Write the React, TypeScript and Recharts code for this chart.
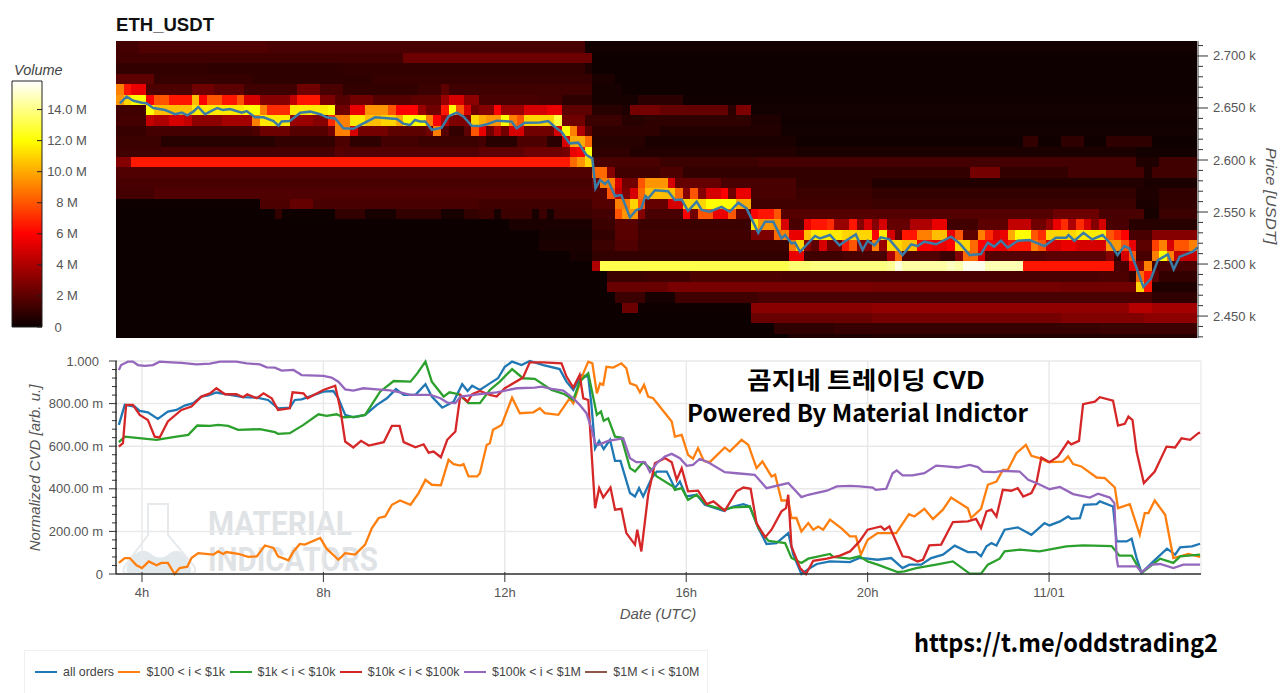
import { Bar, CartesianGrid, ComposedChart, Line, ReferenceArea, ReferenceLine, XAxis, YAxis } from "recharts";

// Order book heatmap: price rows from top to bottom, 10 minute columns.
// Each row lists [first column, volume in M]; a run lasts until the next entry.
const columnCount = 143;
const priceLevels = [
  2702.9, 2692.9, 2682.9, 2672.9, 2662.9, 2652.9, 2642.9, 2632.9, 2622.9, 2612.9, 2602.9, 2592.9, 2582.9, 2572.9, 2562.9,
  2552.9, 2542.9, 2532.9, 2522.9, 2512.9, 2502.9, 2492.9, 2482.9, 2472.9, 2462.9, 2452.9, 2442.9, 2432.9, 2422.9,
];
const volumeRows: number[][][] = [
  [[0, 1.4], [3, 1.7], [20, 1.5], [62, 0.2]],
  [[0, 1.3], [38, 2.4], [63, 0.1]],
  [[0, 1], [12, 0.9], [30, 1], [62, 0.5], [63, 0.1]],
  [[0, 2], [5, 1.1], [18, 0.9], [34, 1.1], [63, 0.4], [66, 0.1]],
  [[0, 9], [1, 6.5], [2, 5.5], [4, 1.6], [10, 2.5], [13, 2], [17, 1.3], [24, 2.5], [27, 1.5], [30, 1], [40, 1.2], [43, 2], [44, 1.3], [63, 0.3], [67, 0.1]],
  [[0, 9.5], [1, 11], [2, 12], [4, 6], [5, 8], [7, 6.5], [10, 10.5], [11, 6], [12, 8], [14, 6.5], [16, 8], [17, 5], [19, 3], [23, 4.5], [24, 6.5], [27, 2.8], [29, 1.8], [31, 2.5], [34, 1.8], [39, 2], [43, 3.5], [44, 5], [46, 3.2], [48, 1.5], [56, 1.4], [59, 0.9], [63, 0.3], [69, 0.8], [75, 0.15]],
  [[0, 1.3], [4, 12], [5, 10.5], [10, 11.5], [17, 12], [19, 9], [20, 7], [23, 11.5], [28, 12], [29, 2.5], [31, 5.5], [33, 9.5], [36, 8], [37, 6], [40, 3.5], [41, 2.5], [43, 6.5], [44, 12], [45, 8], [46, 5], [47, 2.5], [48, 3], [50, 6], [51, 3.5], [54, 5], [57, 5.5], [59, 2], [63, 0.7], [67, 0.5], [68, 2.6], [72, 2.2], [81, 0.8], [82, 2.8], [84, 0.2]],
  [[0, 1.4], [4, 4.5], [5, 4], [7, 5], [9, 4.5], [10, 3.2], [14, 3.8], [18, 9], [19, 11.5], [23, 3.5], [26, 3], [28, 7], [29, 9], [31, 11.5], [33, 10.5], [35, 11], [37, 10], [38, 12], [41, 9], [42, 6], [43, 4], [44, 2.8], [47, 11], [48, 10], [49, 9.5], [51, 12], [52, 9], [53, 8], [54, 11], [58, 13], [59, 2.5], [62, 1.2], [67, 0.7], [70, 0.9], [84, 0.5], [88, 0.15]],
  [[0, 1.1], [4, 1.4], [18, 1.6], [19, 2.4], [23, 1.8], [28, 2.5], [29, 9], [31, 5], [32, 2.6], [36, 2], [41, 2.5], [42, 9], [43, 1.8], [44, 1], [46, 2], [47, 8], [48, 5.5], [49, 2.5], [50, 4], [51, 2.5], [52, 5], [54, 2.5], [58, 5], [59, 12], [60, 9], [61, 4], [62, 2], [63, 0.9], [72, 0.6], [88, 0.2]],
  [[0, 1.2], [6, 0.7], [21, 1], [29, 1.6], [31, 0.9], [35, 1.4], [40, 1.2], [48, 1.4], [49, 0.7], [53, 1.6], [57, 0.8], [59, 5], [60, 10], [62, 8.5], [63, 0.7], [70, 0.4], [90, 0.15], [120, 1], [122, 0.15], [125, 0.9], [128, 0.15], [131, 0.9], [137, 0.1]],
  [[0, 1.3], [6, 1.4], [29, 1.9], [30, 1.7], [48, 2], [54, 2.4], [59, 2.6], [60, 5.5], [61, 6], [62, 12], [63, 0.9], [68, 0.6], [90, 0.4], [135, 0.2]],
  [[0, 3], [2, 6.6], [60, 8.5], [61, 9.5], [62, 11], [63, 1.5], [72, 1.2], [85, 1.4], [135, 0.5], [138, 1.3]],
  [[0, 1.7], [63, 8.5], [65, 3], [66, 1.3], [72, 1.6], [75, 1], [113, 2.6], [117, 1], [126, 1.4], [136, 0.5], [137, 1.3]],
  [[0, 1.5], [63, 2.5], [64, 9], [66, 5], [67, 2.5], [69, 8], [70, 9.5], [73, 5], [74, 2.2], [80, 1.5], [90, 1], [100, 0.6], [136, 0.4]],
  [[0, 1.4], [5, 1.7], [63, 1.8], [65, 8], [66, 4.5], [67, 2.8], [68, 5], [69, 8.5], [70, 10.5], [74, 8.5], [75, 3], [76, 8], [77, 3], [78, 5], [80, 6], [81, 2.5], [82, 5.5], [84, 1.5], [90, 1.2], [100, 1], [135, 0.5], [138, 0.9]],
  [[0, 0.1], [19, 1.6], [23, 2.2], [26, 1.5], [48, 1.3], [63, 1.8], [66, 9], [68, 11], [69, 8], [70, 2.2], [73, 5], [75, 11], [78, 12], [82, 10], [84, 1.3], [100, 1.2], [135, 0.4], [138, 1]],
  [[0, 0.05], [21, 1], [22, 0.1], [29, 1], [33, 0.3], [37, 1], [43, 0.3], [46, 1], [48, 1.2], [50, 0.3], [51, 1.2], [55, 0.3], [56, 1.2], [57, 0.3], [58, 1.2], [63, 1.4], [66, 8], [67, 9.5], [69, 3], [70, 1.5], [75, 6], [76, 2.5], [77, 8], [79, 5.5], [81, 8], [82, 2.2], [84, 6], [85, 6.5], [87, 8], [88, 1.8], [124, 2.4], [130, 1.5], [136, 0.3], [138, 1.2]],
  [[0, 0.05], [52, 0.4], [63, 1.2], [66, 1.9], [69, 1.2], [84, 11.5], [85, 9.5], [88, 5], [89, 1.5], [91, 5.5], [92, 6.5], [94, 7], [95, 3.5], [97, 6.5], [98, 3], [99, 5], [100, 3], [101, 5], [102, 2.2], [105, 4], [108, 5.5], [110, 1.3], [114, 2], [118, 4.5], [121, 2.5], [123, 3.5], [124, 5.5], [125, 7], [126, 4], [127, 7], [128, 5], [129, 3], [130, 5], [131, 1.5], [134, 0.7]],
  [[0, 0.05], [56, 0.3], [63, 1], [66, 1.9], [69, 1.3], [84, 2.8], [87, 8.5], [88, 9], [89, 5.5], [91, 10.5], [92, 11.5], [96, 11], [100, 6], [101, 11.5], [102, 5], [103, 2.2], [104, 6.5], [106, 9], [108, 10.5], [110, 5.5], [111, 8], [112, 2], [114, 9], [115, 7], [116, 5], [117, 5.5], [118, 10], [119, 12], [121, 8], [122, 7], [123, 11], [127, 11.5], [131, 8], [132, 7], [133, 6], [134, 1.5], [137, 3]],
  [[0, 0.05], [56, 0.4], [63, 1.2], [66, 1.7], [69, 1.2], [89, 9], [90, 11], [91, 3], [92, 2], [93, 5], [94, 2.5], [96, 6.5], [97, 8], [98, 3], [100, 9], [101, 3.5], [102, 11], [104, 10.5], [106, 6], [108, 5.5], [110, 6], [111, 11], [113, 8.5], [114, 6], [116, 5.5], [118, 6.5], [121, 9], [122, 8], [123, 5], [125, 5.5], [127, 5], [130, 5], [131, 9.5], [133, 8], [134, 5.5], [135, 2], [137, 7.5], [138, 9], [139, 5], [140, 8], [142, 9]],
  [[0, 0.05], [60, 0.3], [63, 1], [89, 5.5], [91, 1.3], [96, 1.5], [102, 4], [103, 8.5], [104, 1.7], [109, 1.2], [111, 3], [112, 8.5], [114, 5], [115, 1.8], [123, 2], [131, 3], [132, 1], [133, 5], [134, 8], [135, 1.5], [137, 9], [138, 12], [139, 9], [140, 4.5]],
  [[0, 0.05], [63, 4], [64, 13.2], [89, 13.8], [92, 14], [102, 14.3], [103, 15.5], [104, 14.6], [110, 15], [111, 14.7], [112, 15.7], [115, 14.8], [120, 6.5], [132, 1.5], [134, 5.5], [135, 3], [136, 9], [137, 1.5]],
  [[0, 0.05], [65, 1.2], [70, 1.3], [76, 1.6], [88, 1.5], [130, 1.6], [134, 1], [135, 8.5], [136, 6.5], [137, 2], [138, 1]],
  [[0, 0.05], [65, 2.3], [73, 2.7], [100, 2.6], [125, 2.5], [135, 11], [136, 6.5], [137, 0.5]],
  [[0, 0.05], [66, 1.2], [70, 0.3], [74, 1.3], [85, 1.5], [137, 0.9]],
  [[0, 0.05], [67, 2.4], [69, 0.1], [84, 3.1], [100, 3.3], [134, 4.2], [137, 3.8]],
  [[0, 0.05], [84, 2.3], [100, 2.6], [125, 2.9], [136, 3.2]],
  [[0, 0.05], [87, 0.9], [95, 1.1], [130, 1.2]],
  [[0, 0.03], [89, 0.5], [100, 0.6]],
];

// Price line: [hour, USDT]
const priceLine = [
  [3.51, 2654.5], [3.66, 2661], [3.81, 2657], [4, 2655], [4.1, 2654.5], [4.25, 2650], [4.51, 2648], [4.73, 2644], [4.88, 2645.5], [5, 2643], [5.13, 2646.5], [5.24, 2651], [5.39, 2644], [5.5, 2646.5], [5.66, 2650], [5.79, 2648], [5.94, 2649], [6.2, 2645.5], [6.31, 2647], [6.49, 2641], [6.68, 2641], [6.9, 2637.5], [7.01, 2633], [7.08, 2637], [7.26, 2637.5], [7.49, 2645.5], [7.71, 2646.5], [7.93, 2644], [8.07, 2641], [8.26, 2640], [8.44, 2630.5], [8.66, 2630], [8.81, 2633.6], [9.14, 2641], [9.62, 2639.4], [9.76, 2635], [9.91, 2633.6], [10.02, 2638.5], [10.13, 2637], [10.25, 2637], [10.39, 2629], [10.61, 2631], [10.76, 2642], [10.94, 2645.5], [11.09, 2641.7], [11.27, 2633],
  [11.45, 2632.7], [11.63, 2634.6], [11.82, 2637.8], [12.15, 2636.9], [12.26, 2630.4], [12.44, 2635.9], [12.77, 2636], [12.96, 2637.5], [13.1, 2632], [13.25, 2627], [13.43, 2616], [13.62, 2616.7], [13.8, 2604.8], [13.93, 2601.6], [14, 2572.7], [14.1, 2580.8], [14.21, 2577], [14.28, 2580], [14.43, 2565.4], [14.57, 2566.3], [14.76, 2544.9], [14.9, 2551.9], [15.01, 2553.5], [15.1, 2565.4], [15.16, 2563], [15.31, 2571], [15.6, 2570], [15.75, 2561.5], [15.9, 2562], [16.04, 2551], [16.23, 2560], [16.34, 2552], [16.52, 2550.3], [16.78, 2555], [16.96, 2550.3], [17.15, 2559], [17.33, 2553.5], [17.59, 2530], [17.74, 2540.7], [17.92, 2540.7], [18.1, 2524.7], [18.18, 2527.9], [18.32, 2519.9], [18.4, 2520.5], [18.51, 2511.8], [18.84, 2527], [18.95, 2524.7], [19.17, 2527.9],
  [19.38, 2518], [19.52, 2522.4], [19.74, 2528.5], [19.89, 2513.5], [20, 2522.4], [20.15, 2518], [20.29, 2525.6], [20.48, 2523.7], [20.77, 2508.6], [20.96, 2518.9], [21.1, 2517.3], [21.25, 2521.5], [21.51, 2519], [21.84, 2526.3], [22.03, 2519.9], [22.25, 2508.6], [22.5, 2509.6], [22.65, 2520.5], [22.79, 2516.7], [22.94, 2522.4], [23.09, 2515.7], [23.31, 2522.4], [23.57, 2523], [23.9, 2517.3], [24.15, 2525.3], [24.38, 2525.3], [24.43, 2527.9], [24.56, 2522.4], [24.76, 2530], [24.95, 2523.7], [25.18, 2527.9], [25.35, 2519.9], [25.51, 2508.6], [25.66, 2517.3], [25.77, 2515], [25.92, 2497.4], [26.08, 2478], [26.25, 2486], [26.4, 2503.8], [26.62, 2509.3], [26.75, 2494.9], [26.88, 2507], [27.17, 2511.9], [27.28, 2516],
];

// Normalized CVD series: [hour, milli arb. u.]
const allOrdersCvd = [
  [3.49, 700], [3.62, 794], [3.84, 786], [3.95, 766], [4.13, 759], [4.35, 728], [4.57, 762], [4.76, 770], [4.94, 791], [5.13, 802], [5.31, 833], [5.46, 838], [5.64, 852], [5.94, 841], [6.23, 830], [6.53, 828], [6.78, 817], [7, 778], [7.26, 781], [7.37, 817], [7.52, 820], [8, 856], [8.22, 859], [8.33, 825], [8.48, 747], [8.66, 736], [8.92, 747], [9.18, 794], [9.4, 825], [9.6, 868], [9.77, 841], [10.03, 841], [10.25, 891], [10.39, 833], [10.62, 781], [10.87, 809], [11.06, 891], [11.18, 859], [11.28, 884], [11.45, 864],
  [11.67, 895], [11.85, 919], [12, 973], [12.16, 997], [12.37, 981], [12.55, 1000], [12.85, 981], [13.21, 962], [13.36, 903], [13.51, 864], [13.69, 934], [13.84, 925], [13.91, 794], [13.99, 590], [14.08, 625], [14.18, 587], [14.32, 630], [14.43, 531], [14.55, 531], [14.76, 380], [14.87, 364], [14.96, 403], [15.05, 364], [15.24, 450], [15.35, 481], [15.57, 481], [15.75, 403], [15.86, 434], [16, 364], [16.23, 372], [16.41, 325], [16.82, 297], [17.04, 317], [17.26, 328], [17.4, 317], [17.59, 216], [17.77, 141], [17.99, 145], [18.25, 192], [18.36, 91], [18.54, 0], [18.73, 28], [18.88, 47], [19.17, 59], [19.61, 56],
  [19.82, 75], [20, 72], [20.22, 67], [20.52, 75], [20.77, 28], [20.92, 44], [21.18, 44], [21.4, 75], [21.66, 91], [21.92, 133], [22.21, 103], [22.39, 103], [22.5, 83], [22.62, 130], [22.73, 145], [22.84, 134], [23.02, 208], [23.31, 219], [23.61, 184], [23.9, 239], [24.01, 228], [24.24, 247], [24.42, 270], [24.49, 259], [24.68, 262], [24.77, 325], [25.05, 328], [25.12, 341], [25.41, 317], [25.49, 153], [25.71, 153], [25.82, 166], [25.93, 75], [26.04, 5], [26.3, 59], [26.6, 119], [26.78, 91], [26.89, 125], [27.15, 130], [27.33, 142],
];
const orders100To1kCvd = [
  [3.49, 52], [3.62, 75], [3.73, 75], [3.88, 41], [4, 28], [4.15, 59], [4.32, 41], [4.43, 52], [4.57, 52], [4.72, 0], [4.83, 28], [5, 34], [5.09, 75], [5.24, 98], [5.57, 91], [5.68, 106], [5.79, 94], [5.86, 103], [6.12, 95], [6.34, 80], [6.53, 83], [6.71, 134], [6.9, 122], [7, 83], [7.23, 64], [7.34, 106], [7.48, 141], [7.59, 138], [7.93, 169], [8.07, 119], [8.33, 67], [8.48, 98], [8.7, 91], [8.92, 138], [9.07, 216], [9.22, 263], [9.36, 270], [9.51, 325], [9.69, 345], [9.92, 325], [10.1, 380], [10.25, 442], [10.39, 419], [10.59, 416], [10.76, 536], [10.87, 516], [11.02, 509], [11.09, 516], [11.2, 458], [11.39, 458],
  [11.45, 473], [11.6, 606], [11.67, 614], [11.74, 677], [11.93, 700], [12.16, 828], [12.33, 755], [12.63, 759], [12.77, 778], [12.88, 755], [13.18, 747], [13.43, 825], [13.51, 802], [13.73, 942], [13.84, 997], [13.93, 989], [14.03, 848], [14.1, 895], [14.17, 888], [14.24, 973], [14.39, 969], [14.57, 989], [14.68, 966], [14.76, 895], [14.9, 884], [14.98, 853], [15.07, 888], [15.16, 833], [15.27, 825], [15.68, 716], [15.75, 645], [15.9, 653], [16.04, 559], [16.15, 541], [16.26, 591], [16.39, 531], [16.52, 525], [16.85, 594], [16.96, 575], [17.22, 630], [17.37, 606], [17.55, 497], [17.68, 528], [17.88, 458], [17.96, 466], [18.1, 345], [18.25, 345], [18.32, 263], [18.43, 263], [18.54, 200], [18.69, 239], [18.8, 208], [18.91, 223], [19.02, 208], [19.17, 255], [19.43, 213], [19.61, 177],
  [19.74, 177], [19.85, 91], [20, 161], [20.22, 192], [20.63, 192], [20.91, 281], [21.03, 270], [21.25, 306], [21.44, 258], [21.66, 302], [21.84, 359], [22.21, 309], [22.28, 263], [22.5, 306], [22.65, 419], [22.84, 434], [22.98, 489], [23.09, 489], [23.28, 567], [23.49, 606], [23.61, 555], [23.79, 544], [23.98, 525], [24.31, 528], [24.42, 552], [24.53, 516], [24.71, 505], [25.05, 453], [25.23, 450], [25.45, 406], [25.52, 309], [25.78, 328], [26, 184], [26.11, 286], [26.19, 286], [26.33, 345], [26.56, 278], [26.74, 75], [26.89, 83], [27.07, 94], [27.33, 80],
];
const orders1kTo10kCvd = [
  [3.49, 619], [3.62, 645], [3.99, 637], [4.32, 630], [4.76, 645], [5.02, 653], [5.22, 697], [5.5, 695], [5.68, 700], [5.9, 695], [6.12, 677], [6.6, 680], [6.93, 666], [7, 658], [7.26, 661], [7.56, 700], [7.89, 750], [8.07, 742], [8.29, 750], [8.44, 736], [8.74, 739], [8.92, 747], [9.25, 856], [9.55, 906], [9.92, 903], [10.07, 942], [10.25, 997], [10.39, 903], [10.65, 833], [10.78, 853], [10.98, 844], [11.2, 802], [11.45, 802],
  [11.67, 864], [11.89, 903], [12.16, 962], [12.4, 919], [12.66, 916], [13.03, 864], [13.32, 844], [13.51, 817], [13.65, 903], [13.84, 942], [14.03, 747], [14.12, 763], [14.18, 719], [14.28, 731], [14.43, 645], [14.57, 641], [14.76, 497], [14.87, 481], [15.05, 525], [15.24, 489], [15.35, 458], [15.71, 411], [15.75, 395], [15.9, 403], [16.04, 348], [16.23, 372], [16.45, 325], [16.82, 302], [17.04, 313], [17.4, 317], [17.59, 216], [17.81, 156], [18.18, 145], [18.32, 75], [18.54, 52], [18.69, 72], [19.17, 94], [19.24, 80], [19.61, 72],
  [19.82, 83], [20, 59], [20.22, 44], [20.66, 9], [20.81, 12], [21.07, 28], [21.51, 44], [21.88, 59], [22.25, 2], [22.5, 2], [22.65, 44], [22.91, 72], [23.02, 106], [23.35, 114], [23.79, 106], [24.38, 130], [24.75, 134], [25.38, 131], [25.55, 86], [25.82, 86], [26.04, 5], [26.45, 72], [26.74, 52], [26.89, 83], [27.33, 91],
];
const orders10kTo100kCvd = [
  [3.49, 598], [3.58, 614], [3.65, 794], [3.8, 794], [3.95, 747], [4.13, 723], [4.28, 645], [4.39, 641], [4.57, 716], [4.87, 770], [5.09, 786], [5.31, 833], [5.5, 848], [5.64, 872], [5.83, 844], [6.08, 844], [6.23, 830], [6.32, 844], [6.53, 825], [6.68, 848], [6.86, 825], [7, 770], [7.26, 778], [7.32, 853], [7.56, 848], [7.65, 825], [8, 864], [8.26, 884], [8.37, 778], [8.48, 622], [8.66, 594], [8.83, 625], [9, 603], [9.33, 619], [9.51, 695], [9.68, 695], [9.77, 619], [10.03, 595], [10.21, 609], [10.32, 570], [10.43, 575], [10.59, 548], [10.73, 630], [10.91, 669], [11.02, 841], [11.18, 809], [11.28, 844], [11.45, 859],
  [11.67, 841], [11.82, 833], [12, 872], [12.4, 922], [12.55, 994], [12.85, 994], [13.25, 989], [13.36, 927], [13.51, 875], [13.65, 934], [13.73, 825], [13.84, 817], [13.99, 309], [14.08, 403], [14.17, 359], [14.33, 406], [14.43, 302], [14.57, 306], [14.68, 192], [14.87, 138], [14.92, 208], [15.01, 106], [15.16, 372], [15.31, 520], [15.53, 544], [15.68, 525], [15.79, 442], [15.9, 497], [16.04, 388], [16.26, 391], [16.45, 328], [16.6, 341], [16.85, 297], [17.11, 388], [17.26, 406], [17.42, 400], [17.55, 239], [17.74, 172], [17.88, 208], [18.1, 294], [18.2, 309], [18.25, 372], [18.32, 130], [18.51, 28], [18.64, 0], [18.8, 62], [19.1, 72], [19.39, 86], [19.61, 106],
  [19.82, 153], [20, 208], [20.29, 223], [20.37, 208], [20.48, 223], [20.77, 83], [20.92, 78], [21.1, 59], [21.22, 67], [21.36, 134], [21.62, 138], [21.88, 244], [22.21, 247], [22.39, 259], [22.5, 216], [22.62, 294], [22.73, 302], [22.84, 270], [22.98, 395], [23.17, 391], [23.31, 403], [23.43, 364], [23.61, 380], [23.72, 427], [23.83, 547], [24.01, 525], [24.2, 552], [24.42, 622], [24.49, 609], [24.66, 625], [24.75, 797], [25.01, 809], [25.12, 830], [25.41, 814], [25.52, 697], [25.67, 705], [25.75, 739], [25.84, 723], [25.93, 575], [26.09, 427], [26.33, 481], [26.59, 598], [26.78, 594], [26.92, 637], [27.11, 630], [27.29, 661], [27.33, 664],
];
const orders100kTo1MCvd = [
  [3.49, 958], [3.54, 981], [3.62, 989], [3.69, 997], [3.8, 997], [3.91, 981], [4.06, 977], [4.24, 981], [4.39, 997], [4.65, 994], [4.87, 991], [5.2, 984], [5.5, 988], [5.72, 997], [6.08, 997], [6.31, 989], [6.6, 984], [6.75, 970], [6.93, 969], [7.08, 955], [7.34, 958], [7.52, 934], [8, 930], [8.18, 922], [8.33, 903], [8.48, 867], [8.66, 861], [8.88, 872], [9.18, 867], [9.47, 862], [9.69, 853], [9.92, 841], [10.36, 841], [10.58, 825], [10.73, 805], [10.91, 802], [11.02, 833], [11.45, 844],
  [11.82, 853], [12.26, 872], [12.66, 875], [12.81, 880], [13.03, 869], [13.29, 861], [13.51, 825], [13.65, 794], [13.8, 755], [13.91, 684], [13.99, 614], [14.06, 606], [14.28, 625], [14.61, 637], [14.76, 544], [14.9, 525], [15.09, 525], [15.2, 478], [15.35, 520], [15.53, 552], [15.68, 564], [15.86, 544], [16.01, 508], [16.15, 512], [16.3, 541], [16.52, 520], [16.85, 478], [17.11, 473], [17.51, 466], [17.77, 403], [18.25, 427], [18.54, 361], [18.69, 372], [19.1, 391], [19.32, 411], [19.61, 414],
  [19.82, 411], [20.11, 406], [20.18, 395], [20.41, 400], [20.55, 473], [20.64, 486], [20.77, 463], [20.99, 463], [21.25, 473], [21.51, 509], [21.73, 505], [21.99, 500], [22.25, 512], [22.43, 502], [22.54, 481], [22.8, 478], [22.98, 484], [23.35, 481], [23.54, 442], [23.72, 427], [24.01, 398], [24.24, 409], [24.53, 375], [24.9, 359], [25.08, 377], [25.34, 359], [25.44, 333], [25.49, 75], [25.52, 36], [25.93, 36], [26.04, 9], [26.26, 44], [26.45, 47], [26.74, 28], [26.96, 44], [27.33, 44],
];

const cvdSeries = [
  { name: "all orders", color: "#1f77b4", points: allOrdersCvd },
  { name: "$100 < i < $1k", color: "#ff7f0e", points: orders100To1kCvd },
  { name: "$1k < i < $10k", color: "#2ca02c", points: orders1kTo10kCvd },
  { name: "$10k < i < $100k", color: "#d62728", points: orders10kTo100kCvd },
  { name: "$100k < i < $1M", color: "#9467bd", points: orders100kTo1MCvd },
  { name: "$1M < i < $10M", color: "#8c564b", points: [] as number[][] },
];

const priceTicks = [2430, 2440, 2450, 2460, 2470, 2480, 2490, 2500, 2510, 2520, 2530, 2540, 2550, 2560, 2570, 2580, 2590, 2600, 2610, 2620, 2630, 2640, 2650, 2660, 2670, 2680, 2690, 2700, 2710];
const cvdTicks = [0, 40, 80, 120, 160, 200, 240, 280, 320, 360, 400, 440, 480, 520, 560, 600, 640, 680, 720, 760, 800, 840, 880, 920, 960, 1000];
const cvdMajorTicks = [0, 200, 400, 600, 800, 1000];
const cvdLabels: Record<number, string> = { 0: "0", 200: "200.00 m", 400: "400.00 m", 600: "600.00 m", 800: "800.00 m", 1000: "1.000" };
const hourTicks = [4, 8, 12, 16, 20, 24];
const hourLabels: Record<number, string> = { 4: "4h", 8: "8h", 12: "12h", 16: "16h", 20: "20h", 24: "11/01" };
const volumeTicks = [0, 2, 4, 6, 8, 10, 12, 14];
const volumeLabels: Record<number, string> = { 0: "0", 2: "2 M", 4: "4 M", 6: "6 M", 8: "8 M", 10: "10.0 M", 12: "12.0 M", 14: "14.0 M" };

const FONT = "'Liberation Sans', Arial, sans-serif";
const GREY = "#555";
const TOP_HOURS: [number, number] = [3.427, 27.285];
const BOTTOM_HOURS: [number, number] = [3.427, 27.35];
const PRICE_RANGE: [number, number] = [2428.9, 2714.4];
const VOLUME_MAX = 15.84;

// black - red - yellow - white, same stops as the colour bar
function hot(v: number) {
  const hex = (n: number) => Math.round(Math.min(1, Math.max(0, n)) * 255).toString(16).padStart(2, "0");
  const r = 0.0416 + (v / 6) * (1 - 0.0416);
  return `#${hex(r)}${hex((v - 6) / 6)}${hex((v - 12) / 4)}`;
}

const heatCells = volumeRows.flatMap((row, i) =>
  row.map(([start, volume], j) => {
    const end = j < row.length - 1 ? row[j + 1][0] : columnCount;
    return {
      key: `${i}-${start}`,
      x1: Math.max(TOP_HOURS[0], TOP_HOURS[0] + start / 6),
      x2: Math.min(TOP_HOURS[1], TOP_HOURS[0] + end / 6),
      y1: Math.max(PRICE_RANGE[0], priceLevels[i]),
      y2: i === 0 ? PRICE_RANGE[1] : Math.min(PRICE_RANGE[1], priceLevels[i] + 10),
      fill: hot(volume),
    };
  })
);

const toRows = (points: number[][]) => points.map(([h, v]) => ({ h, v }));

const HeatRect = (p: any) => <rect x={p.x} y={p.y} width={p.width} height={p.height} fill={p.fill} shapeRendering="crispEdges" />;

const PriceTick = ({ x, y, payload }: any) => {
  const major = payload.value % 50 === 0;
  return (
    <g>
      <line x1={major ? x - 1 : x} x2={major ? x + 10 : x + 5} y1={y} y2={y} stroke="#333" strokeWidth={1} />
      {major && (
        <text x={x + 15} y={y} dominantBaseline="central" fontSize={13} fontFamily={FONT} fill={GREY}>
          {(payload.value / 1000).toFixed(3)} k
        </text>
      )}
    </g>
  );
};

const CvdTick = ({ x, y, payload }: any) => {
  const label = cvdLabels[payload.value];
  return (
    <g>
      <line x1={label ? x - 7 : x - 4} x2={x + 1} y1={y} y2={y} stroke="#333" strokeWidth={1} />
      {label && (
        <text x={payload.value === 1000 ? x - 17 : x - 13} y={y} dominantBaseline="central" textAnchor="end" fontSize={13} fontFamily={FONT} fill={GREY}>
          {label}
        </text>
      )}
    </g>
  );
};

const HourTick = ({ x, y, payload }: any) => (
  <g>
    <line x1={x} x2={x} y1={y - 2} y2={y + 8} stroke="#333" strokeWidth={1} />
    <text x={x} y={y + 18} dominantBaseline="central" textAnchor="middle" fontSize={13} fontFamily={FONT} fill={GREY}>
      {hourLabels[payload.value]}
    </text>
  </g>
);

const VolumeTick = ({ x, y, payload }: any) => (
  <g>
    <line x1={x - 5} x2={x} y1={y} y2={y} stroke="#222" strokeWidth={1} />
    <text x={payload.value === 0 ? x + 16 : x + 25} y={y} dominantBaseline="central" textAnchor="middle" fontSize={13} fontFamily={FONT} fill={GREY}>
      {volumeLabels[payload.value]}
    </text>
  </g>
);

function ColorBar() {
  return (
    <div style={{ position: "absolute", left: 0, top: 0 }}>
      <ComposedChart width={120} height={340} data={[{ name: "volume", v: VOLUME_MAX }]} margin={{ top: 81, right: 0, bottom: 13, left: 12 }} barCategoryGap={0}>
        <defs>
          <linearGradient id="hotBar" x1="0" y1="1" x2="0" y2="0">
            <stop offset="0" stopColor="#0b0000" />
            <stop offset={6 / VOLUME_MAX} stopColor="#ff0000" />
            <stop offset={12 / VOLUME_MAX} stopColor="#ffff00" />
            <stop offset="1" stopColor="#ffffff" />
          </linearGradient>
        </defs>
        <XAxis dataKey="name" hide />
        <YAxis orientation="right" width={78} domain={[0, VOLUME_MAX]} ticks={volumeTicks} interval={0} axisLine={false} tickLine={false} tickSize={0} tickMargin={0} tick={VolumeTick} />
        <Bar dataKey="v" fill="url(#hotBar)" stroke="#222" strokeWidth={1} isAnimationActive={false} />
      </ComposedChart>
    </div>
  );
}

function HeatmapPanel() {
  return (
    <div style={{ position: "absolute", left: 0, top: 0 }}>
      <ComposedChart width={1280} height={345} margin={{ top: 41, right: 0, bottom: 7, left: 116 }}>
        <XAxis dataKey="h" type="number" domain={TOP_HOURS} allowDataOverflow hide />
        <YAxis orientation="right" width={82} type="number" domain={PRICE_RANGE} allowDataOverflow ticks={priceTicks} interval={0} tickSize={0} tickMargin={0} axisLine={{ stroke: "#333", strokeWidth: 1 }} tickLine={false} tick={PriceTick} />
        {heatCells.map(({ key, ...cell }) => (
          <ReferenceArea key={key} {...cell} stroke="none" fillOpacity={1} ifOverflow="visible" shape={HeatRect} />
        ))}
        <Line data={toRows(priceLine)} dataKey="v" type="linear" stroke="#3a7ca5" strokeWidth={2.5} dot={false} isAnimationActive={false} />
      </ComposedChart>
    </div>
  );
}

function CvdPanel() {
  return (
    <div style={{ position: "absolute", left: 0, top: 345 }}>
      <ComposedChart width={1280} height={348} margin={{ top: 16, right: 79, bottom: 89, left: 0 }}>
        <CartesianGrid horizontalValues={cvdMajorTicks} verticalValues={hourTicks} stroke="#e9e9e9" strokeWidth={1.5} />
        <XAxis dataKey="h" type="number" domain={BOTTOM_HOURS} allowDataOverflow ticks={hourTicks} interval={0} height={30} tickSize={0} tickMargin={0} axisLine={{ stroke: "#333", strokeWidth: 1.5 }} tickLine={false} tick={HourTick} />
        <YAxis width={116} type="number" domain={[0, 1000]} ticks={cvdTicks} interval={0} tickSize={0} tickMargin={0} axisLine={{ stroke: "#333", strokeWidth: 1.5 }} tickLine={false} tick={CvdTick} />
        <ReferenceLine x={BOTTOM_HOURS[1]} stroke="#eee" strokeWidth={1.5} />
        {cvdSeries.map((s) => (
          <Line key={s.name} data={toRows(s.points)} dataKey="v" name={s.name} type="linear" stroke={s.color} strokeWidth={2.3} dot={false} isAnimationActive={false} />
        ))}
      </ComposedChart>
    </div>
  );
}

function Watermark() {
  return (
    <svg width={1280} height={693} style={{ position: "absolute", left: 0, top: 0 }}>
      <path d="M148 504 H168 V535 L194 566 Q198 574 188 574 H130 Q120 574 125 566 L148 535 Z" fill="none" stroke="#e6eaed" strokeWidth={2} />
      <path d="M127 566 Q137 545 150 553 Q160 562 170 553 Q182 545 190 566 Q194 574 186 574 H132 Q124 574 127 566 Z" fill="#e2e9ed" />
      <text x={208} y={535} fontSize={33} fontWeight={700} fontFamily="Roboto, sans-serif" fill="#dfe3e6" textLength={144} lengthAdjust="spacingAndGlyphs">
        MATERIAL
      </text>
      <text x={208} y={571} fontSize={33} fontWeight={700} fontFamily="Roboto, sans-serif" fill="#dfe3e6" textLength={170} lengthAdjust="spacingAndGlyphs">
        INDICATORS
      </text>
    </svg>
  );
}

function Overlay() {
  return (
    <svg width={1280} height={693} style={{ position: "absolute", left: 0, top: 0 }}>
      <text x={116} y={31} fontSize={17.5} fontWeight={700} fontFamily={FONT} fill="#111" textLength={98} lengthAdjust="spacingAndGlyphs">ETH_USDT</text>
      <text x={14} y={75} fontSize={14.5} fontStyle="italic" fontFamily={FONT} fill="#444">Volume</text>
      <text transform="translate(1266 196) rotate(90)" textAnchor="middle" fontSize={15} fontStyle="italic" fontFamily={FONT} fill={GREY} textLength={97} lengthAdjust="spacingAndGlyphs">Price [USDT]</text>
      <text transform="translate(40 468) rotate(-90)" textAnchor="middle" fontSize={15} fontStyle="italic" fontFamily={FONT} fill={GREY}>Normalized CVD [arb. u.]</text>
      <text x={658} y={619} textAnchor="middle" fontSize={15} fontStyle="italic" fontFamily={FONT} fill={GREY}>Date (UTC)</text>
      <text x={747} y={389} fontSize={24} fontWeight={700} fontFamily="'Noto Sans CJK KR', sans-serif" fill="#000" textLength={238} lengthAdjust="spacingAndGlyphs">곰지네 트레이딩 CVD</text>
      <text x={687} y={422} fontSize={24} fontWeight={700} fontFamily="'Noto Sans CJK KR', sans-serif" fill="#000" textLength={341} lengthAdjust="spacingAndGlyphs">Powered By Material Indictor</text>
      <text x={914} y={652} fontSize={25} fontWeight={700} fontFamily="'Noto Sans CJK KR', sans-serif" fill="#000" textLength={304} lengthAdjust="spacingAndGlyphs">https://t.me/oddstrading2</text>
    </svg>
  );
}

function LegendBox() {
  return (
    <div
      style={{
        position: "absolute", left: 24, top: 650, width: 684, height: 43, boxSizing: "border-box",
        border: "1px solid #f0f0f0", borderBottom: "none", paddingLeft: 10, display: "flex", alignItems: "center",
        font: `12.4px ${FONT}`, color: "#444", whiteSpace: "nowrap",
      }}
    >
      {cvdSeries.map((s) => (
        <span key={s.name} style={{ display: "flex", alignItems: "center", marginRight: 4.5 }}>
          <span style={{ width: 22, height: 2.5, background: s.color, marginRight: 6 }} />
          {s.name}
        </span>
      ))}
    </div>
  );
}

export default function App() {
  return (
    <div style={{ position: "absolute", left: 0, top: 0, width: 1280, height: 693, background: "#fff", overflow: "hidden" }}>
      <Watermark />
      <ColorBar />
      <HeatmapPanel />
      <CvdPanel />
      <LegendBox />
      <Overlay />
    </div>
  );
}
